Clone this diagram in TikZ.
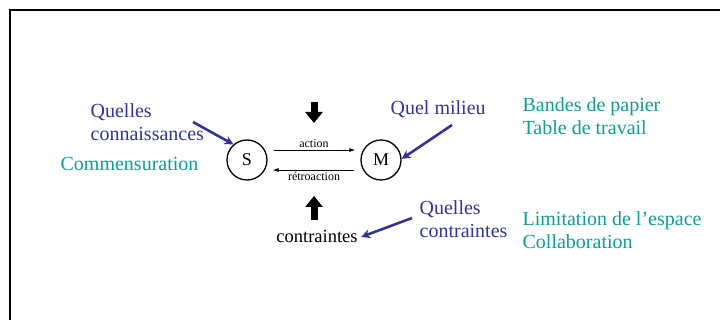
\documentclass[tikz,border=0pt]{standalone}
\usepackage{fontspec}
\setmainfont{Liberation Serif}
\usetikzlibrary{arrows.meta}
\definecolor{hintblue}{RGB}{51,51,153}
\definecolor{answerteal}{RGB}{10,158,150}
\newcommand{\drawFlow}[5]{
  \draw[flow] ([yshift=#3]#1) to node[midway, #5, flowlabel] {#4} ([yshift=#3]#2);
}

\begin{document}
\begin{tikzpicture}[x=1pt, y=-1pt, line width=1.3pt,
  state/.style={draw, circle, minimum size=40pt, inner sep=0pt, font=\fontsize{18}{20}\selectfont},
  flow/.style={-{Latex[length=6pt,width=4pt]}, line width=0.8pt, shorten <=6pt, shorten >=5pt},
  flowlabel/.style={font=\fontsize{12}{14}\selectfont, inner sep=2pt},
  hint/.style={text=hintblue, anchor=base west, align=left, inner sep=0pt, font=\fontsize{20}{23}\selectfont},
  answer/.style={hint, text=answerteal},
  pointer/.style={draw=hintblue, line width=2.6pt, -{Stealth[length=9pt,width=9pt]}},
  push/.style={line width=7pt, -{Triangle[length=11pt,width=17pt]}}]
  \clip (0,0) rectangle (720,320);
  \draw[line width=2pt] (10,330) -- (10,10) -- (730,10);

  % Nodes
  \node[state] (S) at (247,160) {S};
  \node[state] (M) at (381,160) {M};
  \node[font=\fontsize{18.5}{20}\selectfont, anchor=base, inner sep=3pt] (Ct) at (317,243) {contraintes};

  \drawFlow{S.east}{M.west}{10pt}{action}{above}
  \drawFlow{M.west}{S.east}{-10pt}{rétroaction}{below}

  % thick arrows
  \coordinate (DownTop) at (314,102);
  \coordinate (DownTip) at (314,123);
  \coordinate (UpBottom) at (314,220);
  \coordinate (UpTip) at (314,196);
  \draw[push] (DownTop) -- (DownTip);
  \draw[push] (UpBottom) -- (UpTip);

  % questions (base = last line)
  \node[hint] (Qc) at (90,141) {Quelles\\connaissances};
  \node[answer] (Comm) at (60,171) {Commensuration};
  \node[hint] (Qm) at (390,115) {Quel milieu};
  \node[answer] (Bandes) at (522,135) {Bandes de papier\\Table de travail};
  \node[hint] (Qct) at (419,238) {Quelles\\contraintes};
  \node[answer] (Limit) at (522,249) {Limitation de l’espace\\Collaboration};

  \coordinate (QcStart) at (193,122);
  \coordinate (QmStart) at (452,125);
  \coordinate (QctStart) at (412,218);
  \draw[pointer] (QcStart) -- (S.131);
  \draw[pointer] (QmStart) -- (M.3);
  \draw[pointer] (QctStart) -- (Ct.east);
\end{tikzpicture}
\end{document}
